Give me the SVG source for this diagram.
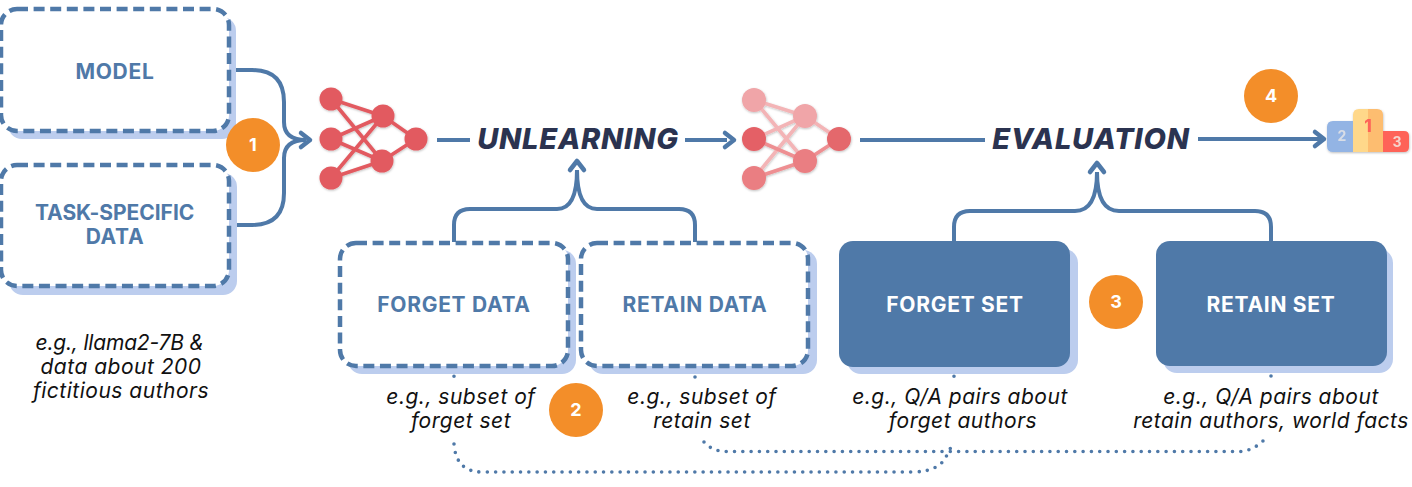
<svg xmlns="http://www.w3.org/2000/svg" width="1412" height="487" viewBox="0 0 1412 487">
<style>
.shadow{fill:#bccdee}
.dash{fill:#fff;stroke:#4f79a8;stroke-width:4.5;stroke-dasharray:11 5.6}
.solid{fill:#4f79a8}
.conn{fill:none;stroke:#4f79a8;stroke-width:4;stroke-linecap:butt}
.head{fill:none;stroke:#4f79a8;stroke-width:4.5;stroke-linecap:round;stroke-linejoin:round}
.dot{fill:none;stroke:#4f79a8;stroke-width:3.6;stroke-linecap:round;stroke-dasharray:0 8.3}
.lb{font:700 21px "Inter","Liberation Sans",sans-serif;letter-spacing:.7px;fill:#4f79a8;text-anchor:middle}
.lw{font:700 21px "Inter","Liberation Sans",sans-serif;letter-spacing:.7px;fill:#fff;text-anchor:middle}
.it{font:italic 400 21px "Inter","Open Sans",sans-serif;letter-spacing:.5px;fill:#111;text-anchor:middle}
.big{font:italic 800 29px "Inter","Liberation Sans",sans-serif;letter-spacing:.8px;fill:#2b3350;text-anchor:middle}
.badge{fill:#f38e29}
.num{font:700 18px "Inter","Liberation Sans",sans-serif;fill:#fff;text-anchor:middle}
.e{stroke:#e25a60;stroke-width:3.6}
.n{fill:#e25a60}
</style>
<defs>
<filter id="sh" x="-20%" y="-20%" width="140%" height="140%"><feDropShadow dx="0.5" dy="1" stdDeviation="0.8" flood-color="#000" flood-opacity="0.25"/></filter>
</defs>

<g id="connectors">
<path class="conn" d="M230 70H252Q284 70 284 102V122Q284 140 306 140"/>
<path class="conn" d="M230 225H252Q284 225 284 193V158Q284 140 306 140"/>
<path class="head" d="M301 133L310 140L301 147"/>
<path class="conn" d="M437 140H470"/>
<path class="conn" d="M685 140H727"/>
<path class="head" d="M725 133L734 140L725 147"/>
<path class="conn" d="M860 140H985"/>
<path class="conn" d="M1198 139H1322"/>
<path class="head" d="M1315 132L1324 139L1315 146"/>
<path class="conn" d="M454 242V225Q454 209 470 209H557Q577 209 577 170"/>
<path class="conn" d="M695 242V225Q695 209 679 209H597Q577 209 577 170"/>
<path class="head" d="M570 170L577 161L584 170"/>
<path class="conn" d="M954 242V227Q954 211 970 211H1075Q1097 211 1097 172"/>
<path class="conn" d="M1271 242V227Q1271 211 1255 211H1119Q1097 211 1097 172"/>
<path class="head" d="M1090 172L1097 163L1104 172"/>
<path class="dot" d="M454 368V378"/>
<path class="dot" d="M695 377V378"/>
<path class="dot" d="M954 368V378"/>
<path class="dot" d="M1271 376V378"/>
<path class="dot" d="M454 444Q456 472 482 472H912Q942 472 948 452L954 443"/>
<path class="dot" d="M704 442Q712 451 725 451.500H1240Q1252 451 1263 441"/>
</g>

<g id="node-model">
<rect class="shadow" x="8" y="17" width="228" height="122" rx="14"/>
<rect class="dash" x="1" y="9" width="228" height="122" rx="16"/>
<text class="lb" x="115" y="79">MODEL</text>
</g>
<g id="node-task-data">
<rect class="shadow" x="9" y="173" width="228" height="122" rx="14"/>
<rect class="dash" x="1" y="165" width="228" height="121" rx="16"/>
<text class="lb" x="115" y="220" textLength="160">TASK-SPECIFIC</text>
<text class="lb" x="115" y="244">DATA</text>
</g>
<g id="node-forget-data">
<rect class="shadow" x="348" y="250" width="228" height="124" rx="14"/>
<rect class="dash" x="340" y="243" width="228" height="123" rx="16"/>
<text class="lb" x="454" y="312">FORGET DATA</text>
</g>
<g id="node-retain-data">
<rect class="shadow" x="589" y="250" width="228" height="124" rx="14"/>
<rect class="dash" x="581" y="243" width="227" height="123" rx="16"/>
<text class="lb" x="695" y="312">RETAIN DATA</text>
</g>
<g id="node-forget-set">
<rect class="shadow" x="847" y="249" width="231" height="125" rx="14"/>
<rect class="solid" x="839" y="241" width="231" height="126" rx="14"/>
<text class="lw" x="955" y="312">FORGET SET</text>
</g>
<g id="node-retain-set">
<rect class="shadow" x="1163" y="249" width="230" height="124" rx="14"/>
<rect class="solid" x="1156" y="241" width="231" height="125" rx="14"/>
<text class="lw" x="1271" y="312">RETAIN SET</text>
</g>

<g id="network-before" filter="url(#sh)">
<g class="e">
<path d="M331 99L383 116M331 99L382 161M331 139L383 116M331 139L382 161M331 178L383 116M331 178L382 161M383 116L416 139M382 161L416 139"/>
</g>
<g class="n">
<circle cx="331" cy="99" r="11.5"/><circle cx="331" cy="139" r="11.5"/><circle cx="331" cy="178" r="11.5"/>
<circle cx="383" cy="116" r="11.5"/><circle cx="382" cy="161" r="11.5"/><circle cx="416" cy="139" r="11.5"/>
</g>
</g>
<g id="network-after" filter="url(#sh)">
<path stroke="#f3b4b6" stroke-width="3.6" d="M754 100L805 116M754 100L805 161M754 139L805 116M754 178L805 116M805 116L839 139"/>
<path stroke="#ee8f92" stroke-width="3.6" d="M754 139L805 161M754 178L805 161M805 161L839 139"/>
<circle cx="754" cy="100" r="12" fill="#f0a5a8"/><circle cx="754" cy="139" r="12" fill="#e46066"/><circle cx="754" cy="178" r="12" fill="#ea7e82"/>
<circle cx="805" cy="116" r="12" fill="#f0a5a8"/><circle cx="805" cy="161" r="12" fill="#ea7e82"/><circle cx="839" cy="139" r="12" fill="#e4676c"/>
</g>

<g id="label-unlearning"><text class="big" x="578" y="149">UNLEARNING</text></g>
<g id="label-evaluation"><text class="big" x="1091" y="149">EVALUATION</text></g>

<g id="podium" filter="url(#sh)">
<path d="M1333 121H1353V152H1333Q1327 152 1327 146V127Q1327 121 1333 121Z" fill="#93b4e4"/>
<path d="M1353 115Q1353 109 1359 109H1368V152H1353Z" fill="#ffd88a"/>
<path d="M1368 109H1377Q1383 109 1383 115V152H1368Z" fill="#fdbd6f"/>
<path d="M1383 131H1404Q1409 131 1409 136V147Q1409 152 1404 152H1383Z" fill="#fe6359"/>
<text x="1342" y="141" font-family="Inter,'Liberation Sans',sans-serif" font-weight="700" font-size="14" fill="#d8dde6" text-anchor="middle">2</text>
<text x="1368" y="132" font-family="Inter,'Liberation Sans',sans-serif" font-weight="800" font-size="17" fill="#fe6359" text-anchor="middle">1</text>
<text x="1397" y="147" font-family="Inter,'Liberation Sans',sans-serif" font-weight="700" font-size="14" fill="#f5d4cc" text-anchor="middle">3</text>
</g>

<g id="badge-1"><circle class="badge" cx="253" cy="145" r="27"/><text class="num" x="253" y="151">1</text></g>
<g id="badge-2"><circle class="badge" cx="576" cy="410" r="27"/><text class="num" x="576" y="416">2</text></g>
<g id="badge-3"><circle class="badge" cx="1116" cy="302" r="27"/><text class="num" x="1116" y="308">3</text></g>
<g id="badge-4"><circle class="badge" cx="1271" cy="96" r="27"/><text class="num" x="1271" y="102">4</text></g>

<g id="notes">
<text class="it" x="120" y="350" textLength="169">e.g., llama2-7B &amp;</text>
<text class="it" x="121" y="374">data about 200</text>
<text class="it" x="121" y="398">fictitious authors</text>
<text class="it" x="461" y="404">e.g., subset of</text>
<text class="it" x="461" y="428">forget set</text>
<text class="it" x="702" y="404">e.g., subset of</text>
<text class="it" x="702" y="428">retain set</text>
<text class="it" x="960" y="404">e.g., Q/A pairs about</text>
<text class="it" x="963" y="428">forget authors</text>
<text class="it" x="1271" y="404">e.g., Q/A pairs about</text>
<text class="it" x="1271" y="428">retain authors, world facts</text>
</g>
</svg>
